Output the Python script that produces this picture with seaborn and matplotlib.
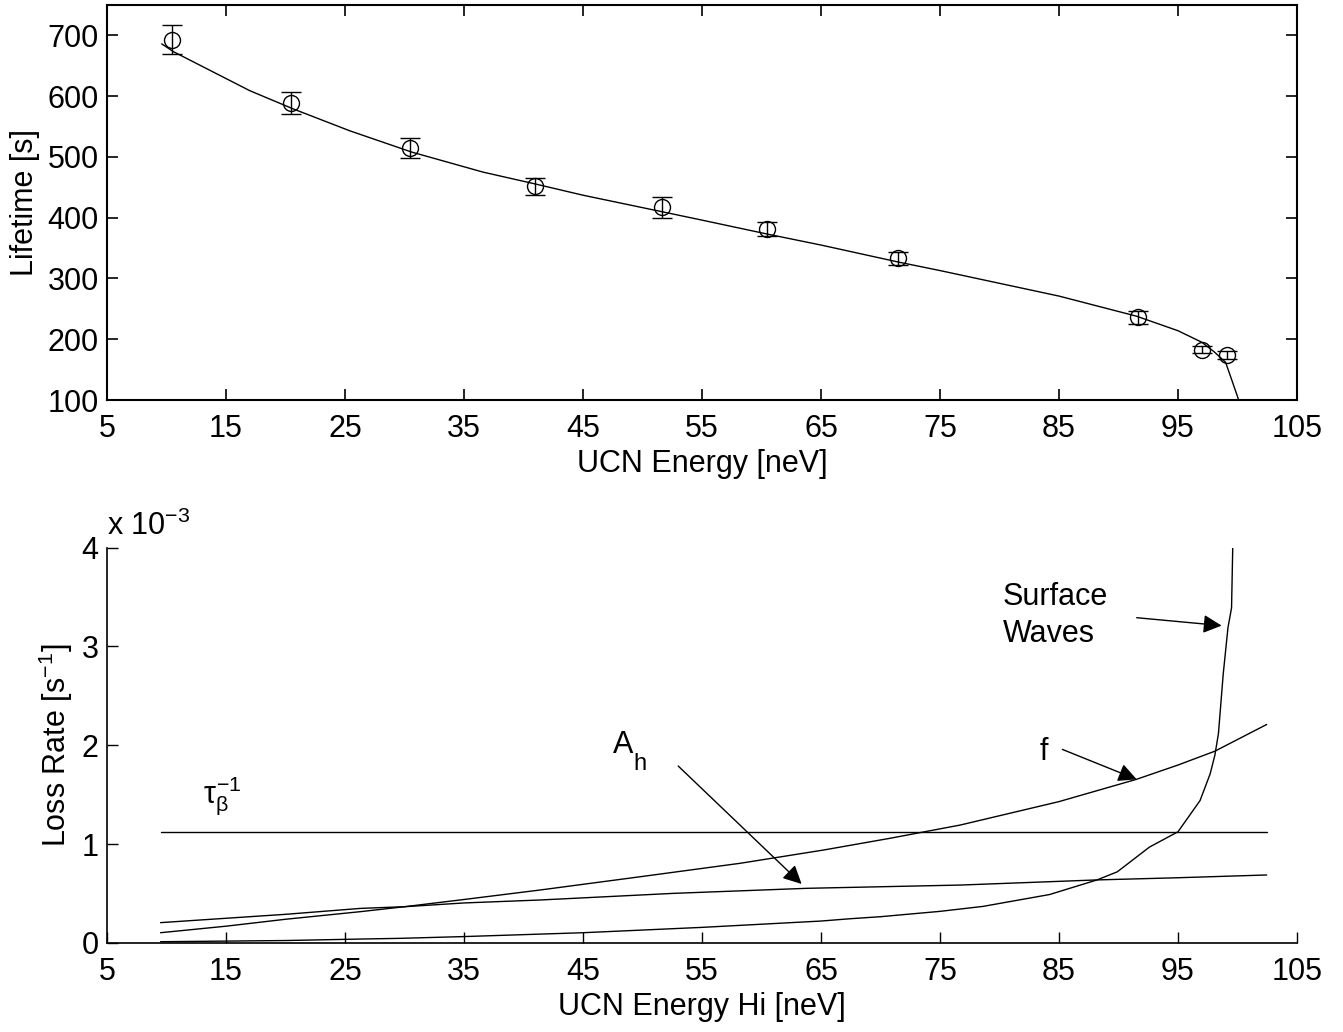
import numpy as np
import pandas as pd
import seaborn as sns
import matplotlib.pyplot as plt
from matplotlib.ticker import FuncFormatter

# measured lifetimes (top panel)
energy_meas = [10.5, 20.5, 30.5, 41.0, 51.6, 60.5, 71.5, 91.6, 97.0, 99.1]
lifetime_meas = [693, 589, 515, 452, 417, 381, 333, 236, 183, 174]
lifetime_err = [24, 18, 16.5, 14, 17.5, 11.5, 11, 10.5, 6, 7]

# fitted curve (top panel)
energy_fit = [9.6, 10.6, 14.2, 17, 20.65, 25.4, 30.6, 36.6, 41.1, 45, 51.6, 55, 60.5, 65,
              71.5, 75, 85, 91.5, 95, 97, 98, 99, 99.5, 100.1]
lifetime_fit = [686, 673, 637, 609, 579, 543, 508, 475, 455, 437, 410, 396, 373, 355,
                327, 313, 271, 238, 214, 195, 180, 162, 134, 100]

# loss rate contributions (bottom panel), s^-1
tau_beta_x = [9.5, 102.45]
tau_beta_y = [1.125e-3, 1.125e-3]

f_x = [9.5, 15, 20, 26.3, 30, 35, 41.4, 49.8, 58.2, 65.2, 70.8, 76.7, 85, 91.5, 95, 98.1,
       102.45]
f_y = [0.104, 0.17, 0.24, 0.317, 0.367, 0.44, 0.536, 0.67, 0.806, 0.94, 1.059, 1.193,
       1.43, 1.655, 1.80, 1.94, 2.21]

ah_x = [9.5, 15, 20, 26.3, 30, 35, 41.4, 52.6, 63.8, 76.7, 88.2, 95, 102.45]
ah_y = [0.206, 0.25, 0.29, 0.35, 0.367, 0.405, 0.435, 0.502, 0.553, 0.586, 0.638, 0.66,
        0.688]

sw_x = [9.5, 20, 26.3, 29.6, 35, 45, 55, 65, 67.4, 70, 75, 78.6, 84.2, 88.2, 89.9, 92.6, 95,
        96.85, 97.7, 98.1, 98.4, 98.8, 99.2, 99.5, 99.6]
sw_y = [0.013, 0.025, 0.04, 0.047, 0.065, 0.104, 0.158, 0.222, 0.245, 0.266, 0.32, 0.37,
        0.49, 0.638, 0.72, 0.97, 1.125, 1.44, 1.71, 1.90, 2.12, 2.72, 3.19, 3.39, 4.0]

sns.set_theme(style="ticks")
plt.rcParams['font.family'] = ['Liberation Sans', 'DejaVu Sans']
plt.rcParams['mathtext.fontset'] = 'custom'
plt.rcParams['mathtext.rm'] = 'Liberation Sans'
plt.rcParams['mathtext.it'] = 'Liberation Sans'
plt.rcParams['mathtext.bf'] = 'Liberation Sans:bold'
plt.rcParams['axes.unicode_minus'] = True
for k in ['text.color', 'axes.labelcolor', 'xtick.color', 'ytick.color', 'axes.edgecolor']:
    plt.rcParams[k] = 'black'

FS = 22
W, H = 1343, 1032
fig = plt.figure(figsize=(W / 100, H / 100), dpi=100)
ax1 = fig.add_axes([107 / W, 1 - 400 / H, 1190 / W, 395 / H])
ax2 = fig.add_axes([107 / W, 1 - 943 / H, 1190 / W, 395.5 / H])

# ---- top panel
sns.lineplot(x=energy_fit, y=lifetime_fit, ax=ax1, color='black', lw=1.0,
             estimator=None, sort=False)
ax1.errorbar(energy_meas, lifetime_meas, yerr=lifetime_err, fmt='o', mfc='none',
             mec='black', ecolor='black', ms=11.5, mew=1.0, elinewidth=1.0,
             capsize=7.5, capthick=1.0)
ax1.set_xlim(5, 105)
ax1.set_ylim(100, 750)
ax1.set_xticks(np.arange(5, 106, 10))
ax1.set_yticks(np.arange(100, 701, 100))
ax1.set_xlabel('UCN Energy [neV]', fontsize=FS, labelpad=4)
ax1.set_ylabel('Lifetime [s]', fontsize=FS, labelpad=5)
ax1.tick_params(axis='both', direction='in', length=8, width=1.2, labelsize=FS,
                top=True, right=True)
ax1.tick_params(axis='x', pad=10)
ax1.tick_params(axis='y', pad=6)
for s in ax1.spines.values():
    s.set_linewidth(1.5)

# ---- bottom panel
for xs, ys in [(tau_beta_x, tau_beta_y), (f_x, np.array(f_y) * 1e-3),
               (ah_x, np.array(ah_y) * 1e-3), (sw_x, np.array(sw_y) * 1e-3)]:
    sns.lineplot(x=xs, y=ys, ax=ax2, color='black', lw=1.0, estimator=None, sort=False)
ax2.set_xlim(5, 105)
ax2.set_ylim(0, 4e-3)
ax2.set_xticks(np.arange(5, 106, 10))
ax2.set_yticks(np.arange(0, 4.1e-3, 1e-3))
ax2.yaxis.set_major_formatter(FuncFormatter(lambda v, p: f'{v * 1e3:g}'))
ax2.set_xlabel('UCN Energy Hi [neV]', fontsize=FS, labelpad=4)
ax2.set_ylabel('Loss Rate [s$^{-1}$]', fontsize=FS, labelpad=5)
ax2.tick_params(axis='both', direction='in', length=8, width=1.0, labelsize=FS)
ax2.tick_params(axis='x', pad=10)
ax2.tick_params(axis='y', pad=6)
sns.despine(ax=ax2)
for s in ['left', 'bottom']:
    ax2.spines[s].set_linewidth(1.2)

ax2.text(0, 1.032, 'x 10$^{-3}$', transform=ax2.transAxes, fontsize=FS,
         ha='left', va='baseline')

# annotations
arrow = dict(arrowstyle='-|>', color='black', lw=1.0, mutation_scale=28, shrinkA=0, shrinkB=0)
ax2.text(80.3, 3.418e-3, 'Surface', fontsize=FS, ha='left', va='baseline')
ax2.text(80.3, 3.044e-3, 'Waves', fontsize=FS, ha='left', va='baseline')
ax2.annotate('', xy=(98.67, 3.21e-3), xytext=(91.53, 3.29e-3), arrowprops=arrow)
ax2.text(83.4, 1.85e-3, 'f', fontsize=FS, ha='left', va='baseline')
ax2.annotate('', xy=(91.53, 1.655e-3), xytext=(85.28, 1.958e-3), arrowprops=arrow)
# A with a MATLAB-style subscript h
ax2.text(47.5, 1.918e-3, 'A', fontsize=FS, ha='left', va='baseline')
ax2.text(49.25, 1.75e-3, 'h', fontsize=17, ha='left', va='baseline')
ax2.annotate('', xy=(63.37, 0.597e-3), xytext=(53.0, 1.79e-3), arrowprops=arrow)
ax2.text(13.07, 1.416e-3, r'$\tau_\beta^{-1}$', fontsize=FS, ha='left', va='baseline')

fig.savefig('out.png', dpi=100, facecolor='white')
